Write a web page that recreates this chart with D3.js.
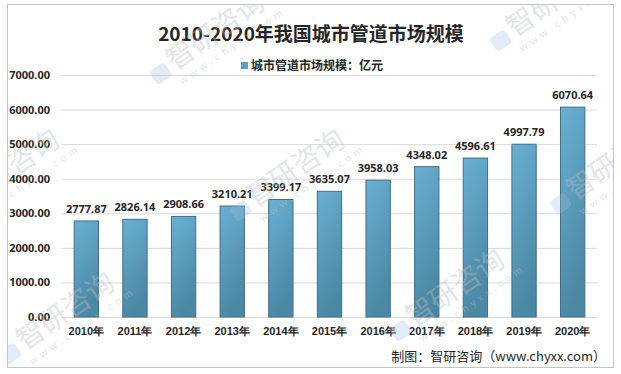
<!DOCTYPE html>
<html>
<head>
<meta charset="utf-8">
<script src="https://cdn.jsdelivr.net/npm/d3@7"></script>
<style>
  body { margin: 0; background: #fff; }
  svg { display: block; font-family: "Noto Sans CJK SC", "Noto Sans", sans-serif; }
</style>
</head>
<body>
<div id="chart"></div>
<script>
// chart data
const years = ['2010年', '2011年', '2012年', '2013年', '2014年', '2015年', '2016年', '2017年', '2018年', '2019年', '2020年'];
const marketSize = [2777.87, 2826.14, 2908.66, 3210.21, 3399.17, 3635.07, 3958.03, 4348.02, 4596.61, 4997.79, 6070.64];
const yTicks = [0, 1000, 2000, 3000, 4000, 5000, 6000, 7000];
const seriesName = '城市管道市场规模：亿元';
const title = '2010-2020年我国城市管道市场规模';
const source = '制图：智研咨询（www.chyxx.com）';

const width = 621, height = 374;
const plot = {left: 62, right: 597, top: 75, bottom: 317};

const svg = d3.select('#chart').append('svg')
  .attr('width', width)
  .attr('height', height);

// bar gradient
const defs = svg.append('defs');
const grad = defs.append('linearGradient')
  .attr('id', 'barGrad')
  .attr('x1', 0).attr('y1', 0).attr('x2', 0.3).attr('y2', 1);
grad.append('stop').attr('offset', '0%').attr('stop-color', '#6ab0d2');
grad.append('stop').attr('offset', '100%').attr('stop-color', '#4b88a4');

// keep watermarks inside the frame
defs.append('clipPath').attr('id', 'frameClip')
  .append('rect').attr('x', 8).attr('y', 5).attr('width', 605).attr('height', 362);

// outer frame
svg.append('rect')
  .attr('x', 7.5).attr('y', 4.5)
  .attr('width', 606).attr('height', 363)
  .attr('fill', '#fff')
  .attr('stroke', '#c4c4c4');

// scales
const x = d3.scaleBand()
  .domain(years)
  .range([plot.left, plot.right])
  .paddingInner(0.5)
  .paddingOuter(0.25);
const y = d3.scaleLinear()
  .domain([0, 7000])
  .range([plot.bottom, plot.top]);

// grid lines + y labels
const yAxis = svg.append('g')
  .attr('transform', `translate(${plot.left},0)`)
  .call(d3.axisLeft(y).tickValues(yTicks).tickFormat(d3.format('.2f'))
    .tickSize(-(plot.right - plot.left)).tickPadding(12));
yAxis.select('.domain').remove();
yAxis.selectAll('.tick line').attr('stroke', '#d9d9d9');
yAxis.selectAll('.tick text')
  .attr('fill', '#262626')
  .style('font-size', '11px')
  .style('font-weight', 'bold')
  .style('font-family', '"Noto Sans", sans-serif');

// bars
svg.append('g').selectAll('.bar').data(marketSize).enter()
  .append('rect')
    .attr('x', (d, i) => x(years[i]))
    .attr('y', d => y(d))
    .attr('width', x.bandwidth())
    .attr('height', d => y(0) - y(d))
    .attr('fill', 'url(#barGrad)')
    .attr('stroke', '#3e6f86')
    .attr('stroke-width', 1);

// value labels
svg.append('g').selectAll('.val').data(marketSize).enter()
  .append('text')
    .attr('x', (d, i) => x(years[i]) + x.bandwidth() / 2)
    .attr('y', d => y(d) - 8)
    .attr('text-anchor', 'middle')
    .attr('fill', '#262626')
    .style('font-size', '11px')
    .style('font-weight', 'bold')
    .style('font-family', '"Noto Sans", sans-serif')
    .text(d => d.toFixed(2));

// x labels
const xAxis = svg.append('g')
  .attr('transform', `translate(0,${plot.bottom})`)
  .call(d3.axisBottom(x).tickSize(0).tickPadding(10));
xAxis.select('.domain').remove();
xAxis.selectAll('.tick text')
  .attr('fill', '#262626')
  .style('font-size', '11px')
  .style('font-weight', 'bold');

// title
svg.append('text')
  .attr('x', 311).attr('y', 41)
  .attr('text-anchor', 'middle')
  .attr('fill', '#262626')
  .style('font-size', '19px')
  .style('font-weight', 'bold')
  .text(title);

// legend
svg.append('rect')
  .attr('x', 241).attr('y', 62)
  .attr('width', 7).attr('height', 7)
  .attr('fill', '#5d9fc0');
svg.append('text')
  .attr('x', 251).attr('y', 70)
  .attr('fill', '#262626')
  .style('font-size', '12px')
  .style('font-weight', 'bold')
  .text(seriesName);

// source note
svg.append('text')
  .attr('x', 606).attr('y', 361)
  .attr('text-anchor', 'end')
  .attr('fill', '#262626')
  .style('font-size', '13px')
  .text(source);

// watermarks (faint, rotated)
const marks = [[-40, 215], [165, 78], [245, 215], [15, 358], [405, 335], [505, 45], [565, 208]];
const wm = svg.append('g').attr('pointer-events', 'none').attr('clip-path', 'url(#frameClip)');
marks.forEach(([mx, my]) => {
  const g = wm.append('g').attr('transform', `translate(${mx},${my}) rotate(-35)`);
  g.append('rect')
    .attr('x', -10).attr('y', -14).attr('width', 18).attr('height', 16).attr('rx', 4)
    .attr('fill', '#9fbde0').attr('opacity', 0.3);
  g.append('text')
    .attr('x', 12).attr('y', 0)
    .attr('fill', '#b8c0c8').attr('opacity', 0.4)
    .style('font-size', '28px')
    .text('智研咨询');
  g.append('text')
    .attr('x', 10).attr('y', 16)
    .attr('fill', '#b8c0c8').attr('opacity', 0.4)
    .style('font-size', '10px')
    .style('letter-spacing', '4px')
    .text('www.chyxx.com');
});
</script>
</body>
</html>
